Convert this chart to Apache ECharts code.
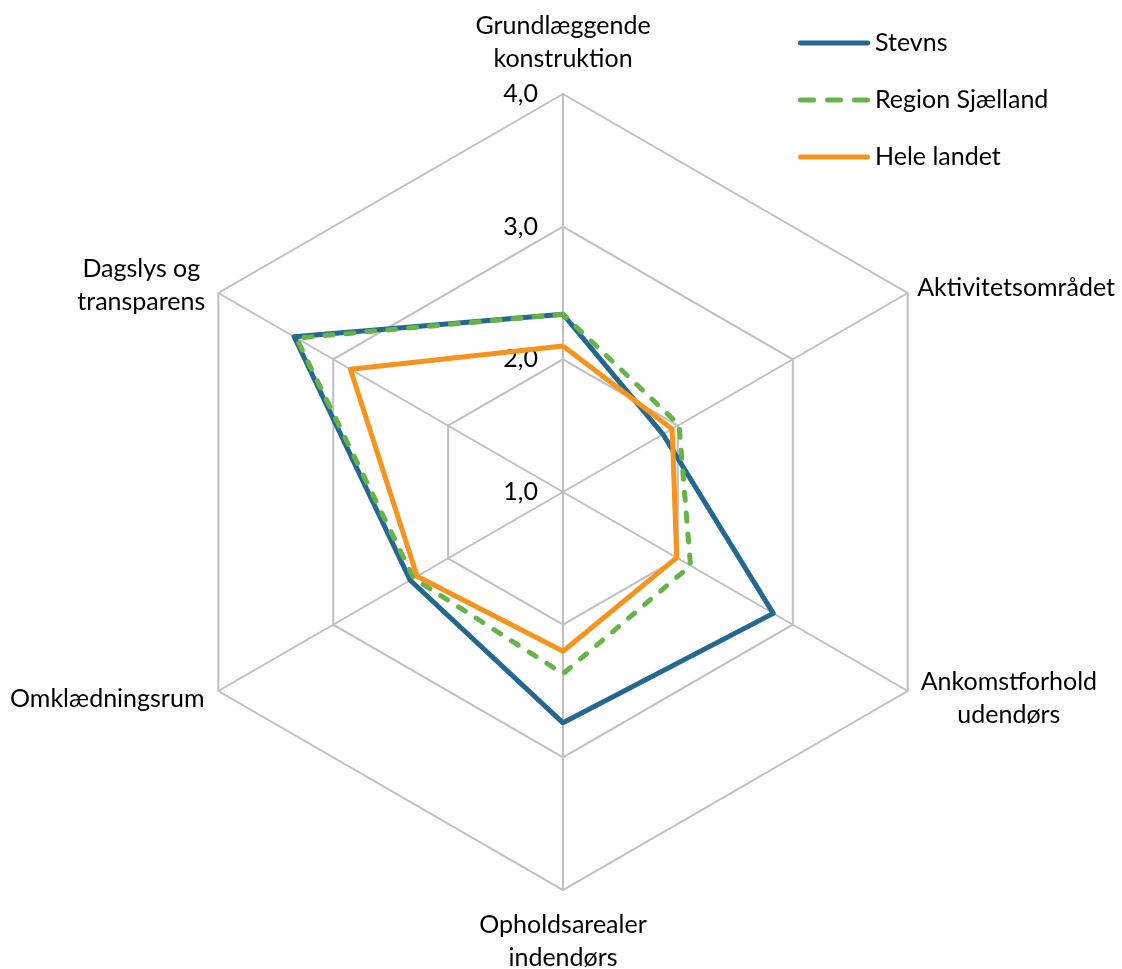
<!DOCTYPE html>
<html>
<head>
<meta charset="utf-8">
<script src="https://cdn.jsdelivr.net/npm/echarts@6/dist/echarts.min.js"></script>
<style>
  html, body { margin: 0; padding: 0; background: #fff; }
  #chart { width: 1122px; height: 969px; }
</style>
</head>
<body>
<div id="chart"></div>
<script>
// indicators in ECharts order (counter-clockwise from the top)
const categories = [
    'Grundlæggende\nkonstruktion',
    'Dagslys og\ntransparens',
    'Omklædningsrum',
    'Opholdsarealer\nindendørs',
    'Ankomstforhold\nudendørs',
    'Aktivitetsområdet'
];
const seriesNames = ['Stevns', 'Region Sjælland', 'Hele landet'];
const stevns = [2.34, 3.34, 2.33, 2.74, 2.83, 1.87];
const regionSjaelland = [2.34, 3.32, 2.30, 2.37, 2.11, 2.01];
const heleLandet = [2.10, 2.85, 2.27, 2.20, 1.99, 1.95];
const axisMin = 1;
const axisMax = 4;

const font = 'Lato';
const fontSize = 25;
const gridColor = '#bfbfbf';
// distance between outer ring and each indicator name
const nameGaps = [19, 15, 16, 18, 15, 11];

var myChart = echarts.init(document.getElementById('chart'));

const indicator = categories.map((name, i) => {
    let ind = { name: name, min: axisMin, max: axisMax, nameGap: nameGaps[i] };
    // only the top axis carries value labels
    if (i === 0) {
        ind.axisLabel = {
            show: true,
            margin: 25,
            fontFamily: font,
            fontSize: fontSize,
            color: '#000',
            formatter: v => v.toFixed(1).replace('.', ',')
        };
    }
    return ind;
});

const solidIcon = 'path://M2.5,0h67a2.5,2.5 0 0 1 0,5h-67a2.5,2.5 0 0 1 0,-5z';
const dashIcon = 'path://M2.5,0h13a2.5,2.5 0 0 1 0,5h-13a2.5,2.5 0 0 1 0,-5z'
    + 'M29.5,0h13a2.5,2.5 0 0 1 0,5h-13a2.5,2.5 0 0 1 0,-5z'
    + 'M56.5,0h13a2.5,2.5 0 0 1 0,5h-13a2.5,2.5 0 0 1 0,-5z';

option = {
    animation: false,
    legend: {
        orient: 'vertical',
        left: 798,
        top: 28,
        padding: 0,
        itemWidth: 72,
        itemHeight: 5,
        itemGap: 27,
        itemStyle: { borderWidth: 0 },
        textStyle: { fontFamily: font, fontSize: fontSize, color: '#000', lineHeight: 30 },
        data: [
            { name: seriesNames[0], icon: solidIcon },
            { name: seriesNames[1], icon: dashIcon },
            { name: seriesNames[2], icon: solidIcon }
        ]
    },
    radar: {
        center: [563, 492],
        radius: 398,
        startAngle: 90,
        shape: 'polygon',
        splitNumber: 3,
        indicator: indicator,
        axisName: {
            color: '#000',
            fontFamily: font,
            fontSize: fontSize,
            lineHeight: 33,
            formatter: name => name.split('\n').map(s => '{c|' + s + '}').join('\n'),
            rich: {
                c: { align: 'center', fontFamily: font, fontSize: fontSize, lineHeight: 33, color: '#000' }
            }
        },
        axisLabel: { show: false },
        axisTick: { show: false },
        axisLine: { lineStyle: { color: gridColor, width: 2 } },
        splitLine: { lineStyle: { color: gridColor, width: 2 } },
        splitArea: { show: false }
    },
    series: [{
        type: 'radar',
        symbol: 'none',
        data: [
            {
                name: seriesNames[0],
                value: stevns,
                lineStyle: { color: '#24678f', width: 5 },
                itemStyle: { color: '#24678f' }
            },
            {
                name: seriesNames[1],
                value: regionSjaelland,
                lineStyle: { color: '#66b447', width: 5, type: [8, 13], cap: 'round' },
                itemStyle: { color: '#66b447' }
            },
            {
                name: seriesNames[2],
                value: heleLandet,
                lineStyle: { color: '#f7941d', width: 5 },
                itemStyle: { color: '#f7941d' }
            }
        ]
    }]
};
myChart.setOption(option);
</script>
</body>
</html>
